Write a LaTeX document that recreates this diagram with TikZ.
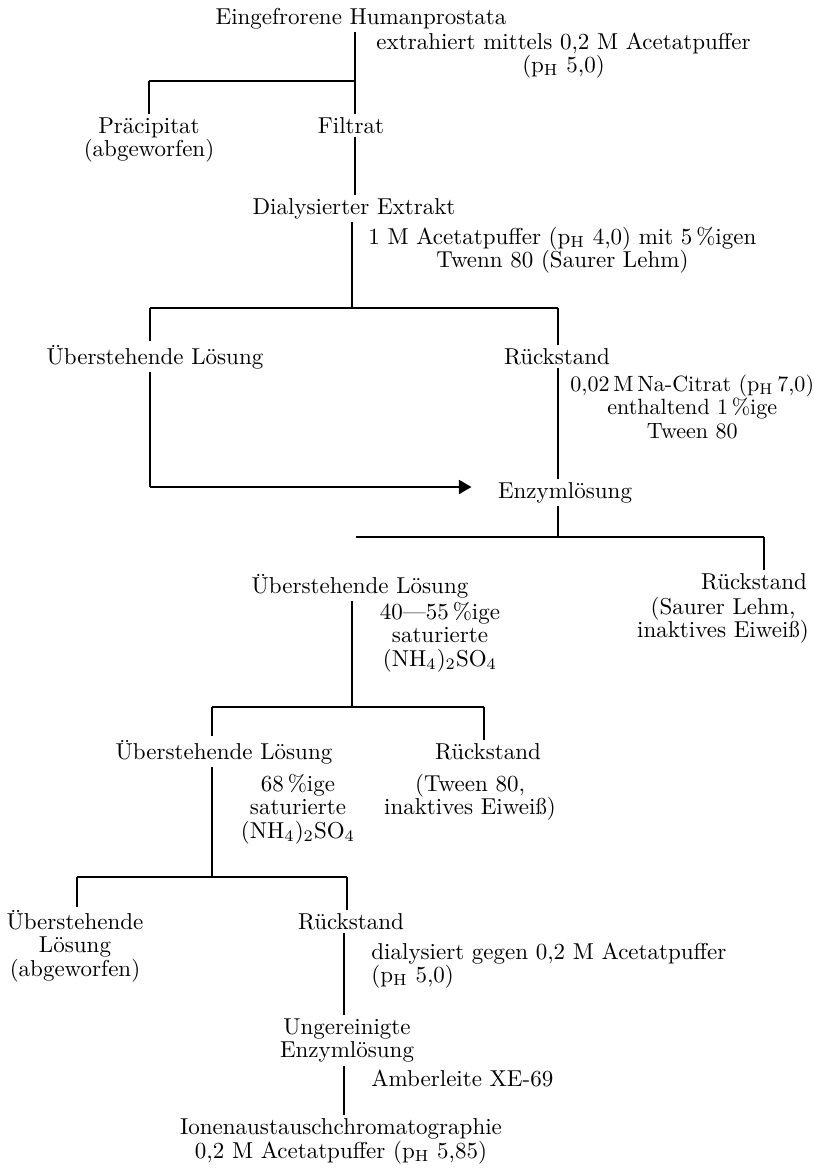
\documentclass[tikz,border=0pt]{standalone}
\usepackage{fontspec}
\usetikzlibrary{arrows.meta}
\newcommand{\pHv}{p$_{\mathrm{H}}$}
\begin{document}
\begin{tikzpicture}[x=0.434783pt,y=-0.434783pt,
  every node/.style={font=\fontsize{10}{10.2}\selectfont\addfontfeatures{FakeBold=0.3}, inner sep=1.5pt, outer sep=0pt},
  lbl/.style={anchor=base, align=center},
  lblw/.style={anchor=base west, align=center},
  vline/.style={line width=0.8pt},
  hline/.style={line width=1.15pt},
  arr/.style={line width=1.15pt, -{Triangle[length=5.5pt,width=6pt]}},
]
\useasboundingbox (0,0) rectangle (813,1168);

% nodes (anchor base = baseline of the last line)
\node[lbl] (title) at (361,24) {Eingefrorene Humanprostata};
\node[lblw] (ex1) at (373,72.5) {extrahiert mittels 0,2 M Acetatpuffer\\(\pHv\ 5,0)};
\node[lbl] (prae) at (149,156.5) {Präcipitat\\(abgeworfen)};
\node[lbl] (filt) at (351,133) {Filtrat};
\node[lbl] (dial) at (354,214) {Dialysierter Extrakt};
\node[lblw] (acet) at (365,267.5) {1 M Acetatpuffer (\pHv\ 4,0) mit 5\,\%igen\\Twenn 80 (Saurer Lehm)};
\node[lbl] (ueb1) at (155,364) {Überstehende Lösung};
\node[lbl] (rue1) at (557,364) {Rückstand};
\node[lblw, font=\fontsize{9.6}{10.2}\selectfont\addfontfeatures{FakeBold=0.3}] (citr) at (567,438) {0,02\,M\,Na-Citrat (\pHv\,7,0)\\enthaltend 1\,\%ige\\Tween 80};
\node[lbl] (enz) at (565,498) {Enzymlösung};
\node[lbl] (ueb2) at (360,593) {Überstehende Lösung};
\node[lbl] (rue2) at (754,589) {Rückstand};
\node[lbl] (rue2n) at (723,637.5) {(Saurer Lehm,\\inaktives Eiweiß)};
\node[lbl] (sat1) at (440,666) {40---55\,\%ige\\saturierte\\(NH$_4$)$_2$SO$_4$};
\node[lbl] (ueb3) at (224,759) {Überstehende Lösung};
\node[lbl] (rue3) at (488,759) {Rückstand};
\node[lbl] (sat2) at (298,838) {68\,\%ige\\saturierte\\(NH$_4$)$_2$SO$_4$};
\node[lbl] (tw) at (470,814.5) {(Tween 80,\\inaktives Eiweiß)};
\node[lbl] (ueb4) at (75,976) {Überstehende\\Lösung\\(abgeworfen)};
\node[lbl] (rue4) at (351,929) {Rückstand};
\node[anchor=base west, align=left] (dly) at (368,982.5) {dialysiert gegen 0,2 M Acetatpuffer\\(\pHv\ 5,0)};
\node[lbl] (ung) at (347,1057.5) {Ungereinigte\\Enzymlösung};
\node[anchor=base west] (amb) at (368,1086) {Amberleite XE-69};
\node[lbl] (ion) at (341,1158) {Ionenaustauschchromatographie\\0,2 M Acetatpuffer (\pHv\ 5,85)};

% junction coordinates
\coordinate (j1) at (355,81);
\coordinate (j2) at (352,308);
\coordinate (j2l) at (150,308);
\coordinate (j2r) at (558,308);
\coordinate (a1) at (150,487);
\coordinate (j3l) at (356,537);
\coordinate (j3r) at (764,537);
\coordinate (j4) at (352,707);
\coordinate (j4l) at (212,707);
\coordinate (j4r) at (484,707);
\coordinate (j5l) at (77,877);
\coordinate (j5r) at (347,877);
\coordinate (t6) at (344,1000);

% stage 1
\draw[vline] (j1 |- title.south) -- (j1 |- filt.north);
\draw[hline] (j1) -- (j1 -| prae);
\draw[vline] (j1 -| prae) -- (prae.north);
\draw[vline] (j1 |- filt.south) -- (j1 |- dial.north);
% stage 2
\draw[vline] (j2 |- dial.south) -- (j2);
\draw[hline] (j2l) -- (j2r);
\draw[vline] (j2l) -- (j2l |- ueb1.north);
\draw[vline] (j2r) -- (j2r |- rue1.north);
\draw[vline] (j2l |- ueb1.south) -- (a1);
\draw[arr, shorten >=10pt] (a1) -- (enz.west |- a1);
\draw[vline] (j2r |- rue1.south) -- (j2r |- enz.north);
% stage 3
\draw[vline] (j2r |- enz.south) -- (j2r |- j3l);
\draw[hline] (j3l) -- (j3r);
\draw[vline] (j3r) -- (j3r |- rue2.north);
% stage 4
\draw[vline] (j4 |- ueb2.south) -- (j4);
\draw[hline] (j4l) -- (j4r);
\draw[vline] (j4l) -- (j4l |- ueb3.north);
\draw[vline] (j4r) -- (j4r |- rue3.north);
% stage 5
\draw[vline] (j4l |- ueb3.south) -- (j4l |- j5l);
\draw[hline] (j5l) -- (j5r);
\draw[vline] (j5l) -- (j5l |- ueb4.north);
\draw[vline] (j5r) -- (j5r |- rue4.north);
% stage 6
\draw[vline] (t6 |- rue4.south) -- (t6 |- ung.north);
\draw[vline] (t6 |- ung.south) -- (t6 |- ion.north);
\end{tikzpicture}
\end{document}
